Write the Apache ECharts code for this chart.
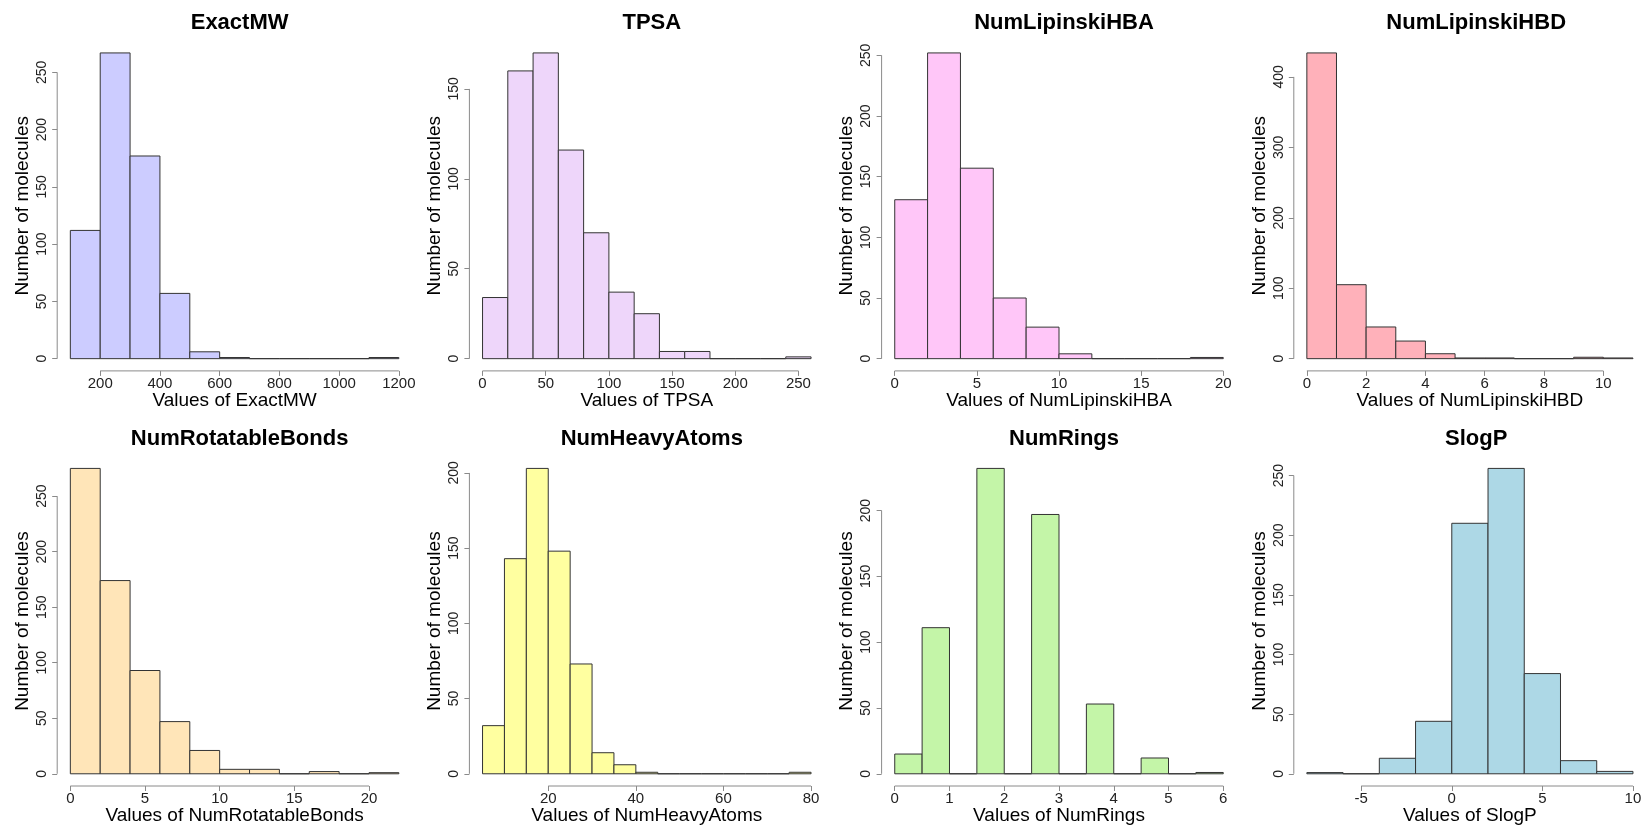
<!DOCTYPE html>
<html><head><meta charset="utf-8">
<script src="https://cdn.jsdelivr.net/npm/echarts@6/dist/echarts.min.js"></script>
<style>html,body{margin:0;padding:0;background:#fff}#c{width:1646px;height:826px}</style>
</head><body><div id="c"></div>
<script>
// ---- data ----
const titles = ['ExactMW','TPSA','NumLipinskiHBA','NumLipinskiHBD','NumRotatableBonds','NumHeavyAtoms','NumRings','SlogP'];

const mwBreaks = [100,200,300,400,500,600,700,800,900,1000,1100,1200];
const mwCounts = [112,267,177,57,6,1,0,0,0,0,1];
const mwXTicks = [200,400,600,800,1000,1200];
const mwYTicks = [0,50,100,150,200,250];

const tpsaBreaks = [0,20,40,60,80,100,120,140,160,180,200,220,240,260];
const tpsaCounts = [34,160,170,116,70,37,25,4,4,0,0,0,1];
const tpsaXTicks = [0,50,100,150,200,250];
const tpsaYTicks = [0,50,100,150];

const hbaBreaks = [0,2,4,6,8,10,12,14,16,18,20];
const hbaCounts = [131,252,157,50,26,4,0,0,0,1];
const hbaXTicks = [0,5,10,15,20];
const hbaYTicks = [0,50,100,150,200,250];

const hbdBreaks = [0,1,2,3,4,5,6,7,8,9,10,11];
const hbdCounts = [434,105,45,25,7,1,1,0,0,2,1];
const hbdXTicks = [0,2,4,6,8,10];
const hbdYTicks = [0,100,200,300,400];

const rotBreaks = [0,2,4,6,8,10,12,14,16,18,20,22];
const rotCounts = [275,174,93,47,21,4,4,0,2,0,1];
const rotXTicks = [0,5,10,15,20];
const rotYTicks = [0,50,100,150,200,250];

const haBreaks = [5,10,15,20,25,30,35,40,45,50,55,60,65,70,75,80];
const haCounts = [32,143,203,148,73,14,6,1,0,0,0,0,0,0,1];
const haXTicks = [20,40,60,80];
const haYTicks = [0,50,100,150,200];

const ringBreaks = [0,0.5,1,1.5,2,2.5,3,3.5,4,4.5,5,5.5,6];
const ringCounts = [15,111,0,232,0,197,0,53,0,12,0,1];
const ringXTicks = [0,1,2,3,4,5,6];
const ringYTicks = [0,50,100,150,200];

const slogpBreaks = [-8,-6,-4,-2,0,2,4,6,8,10];
const slogpCounts = [1,0,13,44,210,256,84,11,2];
const slogpXTicks = [-5,0,5,10];
const slogpYTicks = [0,50,100,150,200,250];

const colors = ['#CCCCFF','#EED6FA','#FFC6F8','#FFB1BA','#FFE5B8','#FFFFA0','#C4F5A8','#ADD8E6'];

const panels = [
  [mwBreaks, mwCounts, mwXTicks, mwYTicks],
  [tpsaBreaks, tpsaCounts, tpsaXTicks, tpsaYTicks],
  [hbaBreaks, hbaCounts, hbaXTicks, hbaYTicks],
  [hbdBreaks, hbdCounts, hbdXTicks, hbdYTicks],
  [rotBreaks, rotCounts, rotXTicks, rotYTicks],
  [haBreaks, haCounts, haXTicks, haYTicks],
  [ringBreaks, ringCounts, ringXTicks, ringYTicks],
  [slogpBreaks, slogpCounts, slogpXTicks, slogpYTicks]
];

// ---- layout ----
const FONT = '"Liberation Sans", Arial, Helvetica, sans-serif';
const colLeft = [57.2, 469.4, 881.6, 1293.8];
const rowTop = [40.7, 456.2];
const W = 354.8, H = 330.2;
const AXIS = '#8a8a8a';

const chart = echarts.init(document.getElementById('c'), null, {renderer: 'canvas'});
const option = {animation: false, backgroundColor: '#fff', title: [], grid: [], xAxis: [], yAxis: [], series: []};

panels.forEach((pp, i) => {
  const [breaks, counts, xTicks, yTicks] = pp;
  const c = i % 4, r = Math.floor(i / 4);
  const x0 = breaks[0], x1 = breaks[breaks.length - 1];
  const xr = x1 - x0;
  const xmin = x0 - 0.04 * xr, xmax = x1 + 0.04 * xr;
  const ytop = Math.max(...counts);
  const ymin = -0.04 * ytop, ymax = 1.04 * ytop;
  const fill = colors[i];

  option.grid.push({left: colLeft[c], top: rowTop[r], width: W, height: H});
  option.title.push({
    text: titles[i], left: colLeft[c] + W / 2, top: rowTop[r] - 33.6, textAlign: 'center',
    textStyle: {fontFamily: FONT, fontSize: 22, fontWeight: 'bold', color: '#000'}
  });
  option.xAxis.push({
    type: 'value', gridIndex: i, min: xmin, max: xmax, position: 'bottom',
    name: 'Values of ' + titles[i], nameLocation: 'middle', nameGap: 20, nameMoveOverlap: false,
    nameTextStyle: {fontFamily: FONT, fontSize: 19, color: '#000'},
    axisLine: {show: false, onZero: false},
    axisTick: {show: true, length: 5, lineStyle: {color: AXIS, width: 1}, customValues: xTicks},
    axisLabel: {customValues: xTicks, margin: 5, fontSize: 15, color: '#222', fontFamily: FONT,
      hideOverlap: false, formatter: v => String(v)},
    splitLine: {show: false}
  });
  option.yAxis.push({
    type: 'value', gridIndex: i, min: ymin, max: ymax, position: 'left',
    name: 'Number of molecules', nameLocation: 'middle', nameGap: 25, nameMoveOverlap: false,
    nameTextStyle: {fontFamily: FONT, fontSize: 19, color: '#000'},
    axisLine: {show: false, onZero: false},
    axisTick: {show: true, length: 5, lineStyle: {color: AXIS, width: 1}, customValues: yTicks},
    axisLabel: {customValues: yTicks, margin: 8, rotate: 90, fontSize: 14, color: '#222', fontFamily: FONT,
      hideOverlap: false, formatter: v => String(v)},
    splitLine: {show: false}
  });

  const barData = counts.map((v, k) => [breaks[k], breaks[k + 1], v]);
  option.series.push({
    type: 'custom', xAxisIndex: i, yAxisIndex: i, silent: true,
    data: barData, encode: {x: [0, 1], y: 2},
    renderItem: (params, api) => {
      const a = api.coord([api.value(0), 0]);
      const b = api.coord([api.value(1), api.value(2)]);
      return {
        type: 'rect',
        shape: {x: a[0], y: b[1], width: b[0] - a[0], height: a[1] - b[1]},
        style: {fill: fill, stroke: '#333', lineWidth: 1}
      };
    }
  });
  option.series.push({
    type: 'custom', xAxisIndex: i, yAxisIndex: i, silent: true,
    data: [[xTicks[0], xTicks[xTicks.length - 1], yTicks[0], yTicks[yTicks.length - 1]]],
    encode: {x: [0, 1], y: [2, 3]},
    renderItem: (params, api) => {
      const a = api.coord([api.value(0), ymin]);
      const b = api.coord([api.value(1), ymin]);
      const d = api.coord([xmin, api.value(2)]);
      const e = api.coord([xmin, api.value(3)]);
      return {
        type: 'group',
        children: [
          {type: 'line', shape: {x1: a[0], y1: a[1], x2: b[0], y2: b[1]}, style: {stroke: AXIS, lineWidth: 1}},
          {type: 'line', shape: {x1: d[0], y1: d[1], x2: e[0], y2: e[1]}, style: {stroke: AXIS, lineWidth: 1}}
        ]
      };
    }
  });
});

chart.setOption(option);
</script>
</body></html>
